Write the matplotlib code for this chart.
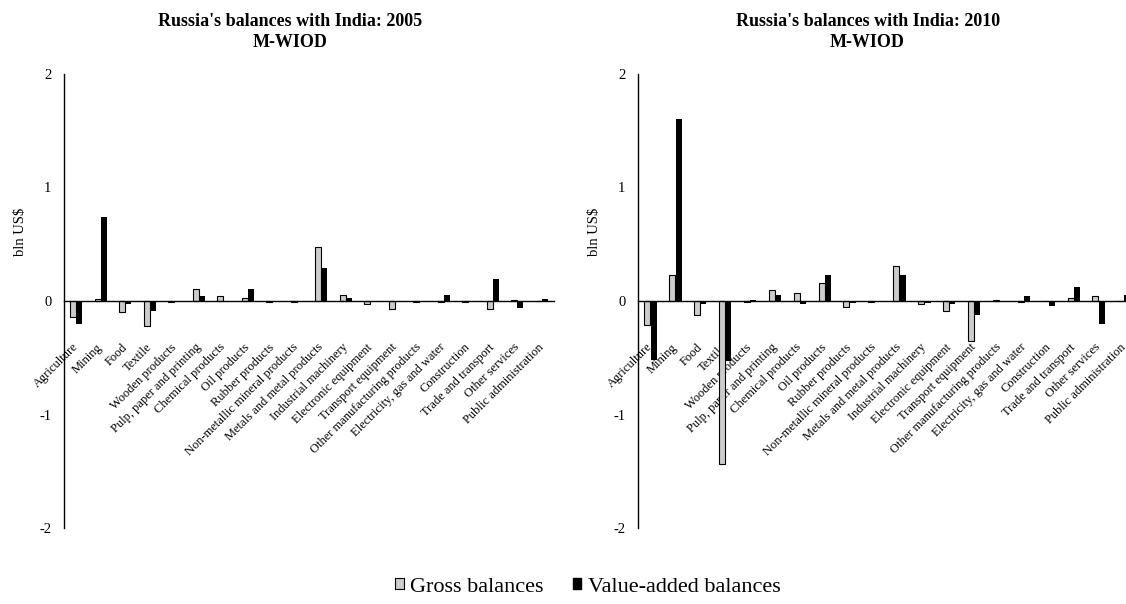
import matplotlib
matplotlib.use("Agg")
import matplotlib.pyplot as plt
from matplotlib.patches import Patch
import numpy as np

plt.rcParams['font.family'] = ['Liberation Serif', 'DejaVu Serif']

sectors = ["Agriculture", "Mining", "Food", "Textile", "Wooden products",
           "Pulp, paper and printing", "Chemical products", "Oil products",
           "Rubber products", "Non-metallic mineral products",
           "Metals and metal products", "Industrial machinery",
           "Electronic equipment", "Transport equipment",
           "Other manufacturing products", "Electricity, gas and water",
           "Construction", "Trade and transport", "Other services",
           "Public administration"]

# bln US$
gross_2005 = [-0.14, 0.02, -0.10, -0.22, -0.01, 0.11, 0.04, 0.03, -0.01, -0.01,
              0.48, 0.05, -0.03, -0.07, -0.01, -0.01, -0.01, -0.07, 0.01, 0.0]
va_2005 = [-0.20, 0.74, -0.03, -0.09, -0.005, 0.04, 0.0, 0.11, -0.01, -0.005,
           0.29, 0.03, -0.005, -0.01, -0.01, 0.05, 0.0, 0.19, -0.06, 0.02]

gross_2010 = [-0.21, 0.23, -0.12, -1.44, -0.01, 0.10, 0.07, 0.16, -0.05, -0.01,
              0.31, -0.03, -0.09, -0.35, 0.01, -0.01, 0.0, 0.03, 0.04, 0.0]
va_2010 = [-0.52, 1.60, -0.03, -0.53, 0.01, 0.05, -0.03, 0.23, -0.02, -0.01,
           0.23, -0.02, -0.03, -0.12, 0.0, 0.04, -0.04, 0.12, -0.20, 0.05]

years = ["2005", "2010"]
yticks = [-2, -1, 0, 1, 2]

GREY = "#cccccc"
W, H = 1126, 604

fig = plt.figure(figsize=(W / 100, H / 100), dpi=100)

# axes boxes in pixels: left, right edge of the category range
boxes = [(64, 554), (638, 1136)]
y_top, y_bot = 74, 528

for (x0, x1), year, gross, va in zip(boxes, years,
                                    [gross_2005, gross_2010],
                                    [va_2005, va_2010]):
    ax = fig.add_axes([x0 / W, 1 - y_bot / H, (x1 - x0) / W, (y_bot - y_top) / H])
    x = np.arange(len(sectors))
    ax.bar(x - 0.13, gross, width=0.24, color=GREY, edgecolor="black",
           linewidth=0.8, zorder=2)
    ax.bar(x + 0.13, va, width=0.24, color="black", linewidth=0, zorder=2)

    ax.set_xlim(-0.5, len(sectors) - 0.5)
    ax.set_ylim(-2, 2)
    ax.set_yticks(yticks)
    ax.set_yticklabels([str(t) for t in yticks])

    for s in ["top", "right"]:
        ax.spines[s].set_visible(False)
    ax.spines["bottom"].set_position(("data", 0))
    ax.spines["bottom"].set_zorder(3)
    for s in ["left", "bottom"]:
        ax.spines[s].set_linewidth(1.0)

    ax.set_xticks(x)
    ax.set_xticklabels(sectors, rotation=45, ha="right", va="center",
                       rotation_mode="anchor", fontsize=9)
    ax.tick_params(axis="x", length=0, pad=32)
    ax.tick_params(axis="y", length=0, pad=9, labelsize=10.5)

    ax.set_ylabel("bln US$", fontsize=10.5)
    ax.yaxis.set_label_coords(-37 / (x1 - x0), 0.652)

    ax.text(0.461, (y_top - 32) / (y_bot - y_top) + 1,
            "Russia's balances with India: " + year + "\nM-WIOD",
            transform=ax.transAxes, ha="center", va="center",
            fontsize=13, fontweight="bold", linespacing=1.3)

handles = [Patch(facecolor=GREY, edgecolor="black", linewidth=0.8),
           Patch(facecolor="black", edgecolor="black")]
fig.legend(handles, ["Gross balances", "Value-added balances"],
           loc="center", bbox_to_anchor=(588 / W, 1 - 587 / H), ncol=2,
           frameon=False, fontsize=16, handlelength=0.38, handleheight=0.38,
           handletextpad=0.3, columnspacing=1.3)

fig.savefig("out.png", dpi=100)
